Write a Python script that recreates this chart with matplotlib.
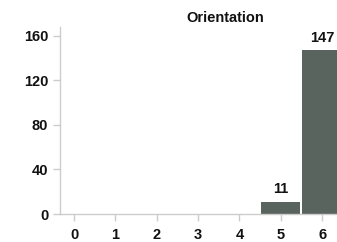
import matplotlib
matplotlib.use("Agg")
import matplotlib.pyplot as plt

categories = [0, 1, 2, 3, 4, 5, 6]
counts = [0, 0, 0, 0, 0, 11, 147]
yticks = [0, 40, 80, 120, 160]
title = "Orientation"

plt.rcParams['font.family'] = ['Liberation Sans', 'DejaVu Sans']
W, H = 337, 242
fig = plt.figure(figsize=(W/100, H/100), dpi=100)
ax = fig.add_axes([60/W, 1-214/H, (W-60)/W, (214-27)/H])
bars = ax.bar(categories, counts, width=0.95, color='#5a645f', edgecolor='none', zorder=2)
for x, c in zip(categories, counts):
    if c > 0:
        ax.text(x, c + 5, str(c), ha='center', va='bottom', fontsize=10.5, fontweight='bold', color='#111111')
ax.set_xlim(-0.34, 6.36)
ax.set_ylim(0, 168)
ax.set_xticks(categories)
ax.set_yticks(yticks)
ax.tick_params(axis='both', colors='#cccccc', labelcolor='#111111', labelsize=10.5, length=5, width=1)
ax.tick_params(axis='x', pad=5)
for lab in ax.get_xticklabels() + ax.get_yticklabels():
    lab.set_fontweight('bold')
for s in ['top', 'right']:
    ax.spines[s].set_visible(False)
for s in ['left', 'bottom']:
    ax.spines[s].set_color('#cccccc')
    ax.spines[s].set_linewidth(1)
fig.text(225/W, 1-18/H, title, ha='center', va='center', fontsize=10.5, fontweight='bold', color='#111111')
fig.savefig('out.png', dpi=100)
